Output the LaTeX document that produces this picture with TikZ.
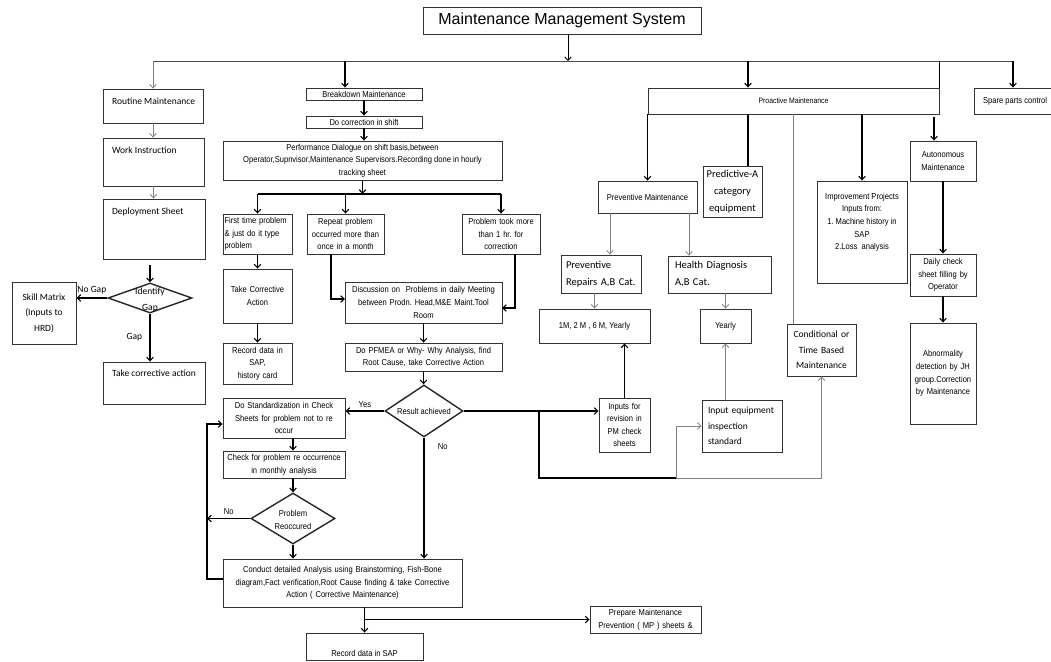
\documentclass[tikz,border=0pt]{standalone}
\usepackage{fontspec}
\usepackage{tikz}
\usetikzlibrary{shapes.geometric, arrows.meta}
\setmainfont{Liberation Sans}
\newfontfamily\narrowfam{Liberation Sans}[FakeStretch=0.88]
\newfontfamily\calibfam{Carlito}
\newcommand{\txtnarrow}{\narrowfam\fontsize{8.6}{12.6}\selectfont}
\newcommand{\txtsmall}{\narrowfam\fontsize{7.8}{11}\selectfont}
\newcommand{\txtcalib}{\calibfam\fontsize{9.5}{15.5}\selectfont}
\newcommand{\txtcalibbig}{\calibfam\fontsize{10.5}{17}\selectfont}
\frenchspacing

\begin{document}
\begin{tikzpicture}[x=1pt, y=-1pt,
    box/.style={draw=black!80, line width=0.9pt, inner sep=1.5pt, align=center, font=\txtnarrow},
    dia/.style={diamond, draw=black!85, line width=1.4pt, inner sep=0pt},
    tl/.style={anchor=west, xshift=6, yshift=-13, font=\txtcalib},
    ar/.style={-{Straight Barb[length=3.5pt,width=6.5pt]}, line width=1.1pt},
    gar/.style={ar, draw=black!50, line width=0.8pt},
    ln/.style={line width=1.1pt},
    gln/.style={draw=black!50, line width=0.8pt}]
\useasboundingbox (0,0) rectangle (1051,661);
\clip (0,0) rectangle (1051,661);

\node[box, minimum width=278, minimum height=27, font=\fontsize{16}{18}\selectfont] (title) at (562,20.5) {Maintenance Management System};

\node[box, minimum width=100, minimum height=34, label={[tl]north west:Routine Maintenance}] (routine) at (153,106) {};
\node[box, minimum width=101, minimum height=48, label={[tl]north west:Work Instruction}] (work) at (153.5,162) {};
\node[box, minimum width=102, minimum height=60, label={[tl]north west:Deployment Sheet}] (deploy) at (154,229) {};
\node[dia, minimum width=84, minimum height=30, label={[font=\txtcalib, align=center, yshift=-2]center:Identify\\Gap}] (gapd) at (150,298) {};
\node[box, font=\txtcalib, minimum width=64, minimum height=62] (skill) at (44,313) {Skill Matrix\\(Inputs to\\HRD)};
\node[box, minimum width=102, minimum height=42, label={[font=\txtcalib, anchor=center, yshift=-12]north:Take corrective action}] (takeca) at (154,383) {};

\node[box, minimum width=116, minimum height=12, inner sep=0.5pt] (bd) at (364,94) {Breakdown Maintenance};
\node[box, minimum width=116, minimum height=12, inner sep=0.5pt] (corr) at (364,122) {Do correction in shift};
\node[box, minimum width=279, minimum height=39] (perf) at (362.5,160.5) {Performance Dialogue on shift basis,between\\Operator,Supnvisor,Maintenance Supervisors.Recording done in hourly\\tracking sheet};
\node[box, align=left, text width=66, minimum height=40] (first) at (257.5,234) {First time problem\\\& just do it type\\problem};
\node[box, text width=74, minimum height=40] (repeat) at (345.5,234) {Repeat problem\\occurred more than\\once in a month};
\node[box, text width=75, minimum height=40] (took) at (501,234) {Problem took more\\than 1 hr. for\\correction};
\node[box, text width=66, minimum height=54] (tca) at (257.5,296) {Take Corrective\\Action};
\node[box, text width=66, minimum height=41] (rec1) at (257.5,363.5) {Record data in\\SAP,\\history card};
\node[box, text width=154, minimum height=41] (disc) at (423.5,302.5) {Discussion on\ \ Problems in daily Meeting\\between Prodn. Head,M\&E Maint.Tool\\Room};
\node[box, text width=154, minimum height=28] (pfmea) at (423.5,357) {Do PFMEA or Why- Why Analysis, find\\Root Cause, take Corrective Action};
\node[dia, minimum width=78, minimum height=52, label={[font=\txtnarrow]center:Result achieved}] (res) at (424,411) {};
\node[box, text width=119, minimum height=40] (std) at (284,418) {Do Standardization in Check\\Sheets for problem not to re\\occur};
\node[box, text width=119, minimum height=27] (chk) at (284,464.5) {Check for problem re occurrence\\in monthly analysis};
\node[dia, minimum width=84, minimum height=51, label={[font=\txtnarrow, align=center, yshift=-1.5]center:Problem\\Reoccured}] (reo) at (293,518.5) {};
\node[box, text width=236, minimum height=48] (cond) at (342.5,583) {Conduct detailed Analysis using Brainstorming, Fish-Bone\\diagram,Fact verification,Root Cause finding \& take Corrective\\Action ( Corrective Maintenance)};
\node[box, minimum width=117, minimum height=27, label={[font=\txtnarrow, yshift=-7]center:Record data in SAP}] (rec2) at (364.5,646.5) {};
\node[box, text width=108, minimum height=27] (prep) at (645.5,619.5) {Prepare Maintenance\\Prevention ( MP ) sheets \&};

\node[box, font=\txtsmall, minimum width=291, minimum height=26] (pro) at (793.5,101) {Proactive Maintenance};
\node[box, minimum width=91, minimum height=26, label={[anchor=west, xshift=6, font=\txtnarrow]west:Spare parts control}] (spare) at (1019.5,101) {};
\node[box, minimum width=99, minimum height=32] (prevm) at (647.5,197) {Preventive Maintenance};
\node[box, font=\txtcalibbig, inner sep=0pt, minimum width=59, minimum height=51] (pred) at (732.5,191.5) {Predictive-A\\category\\equipment};
\node[box, minimum width=90, minimum height=102, label={[font=\txtnarrow, align=center, anchor=north, yshift=-9]north:Improvement Projects\\Inputs from:\\1. Machine history in\\SAP\\2.Loss\ \ analysis}] (impr) at (862,232) {};
\node[box, text width=63, minimum height=40] (auto) at (943,161) {Autonomous\\Maintenance};
\node[box, text width=63, minimum height=42] (daily) at (943,275) {Daily check\\sheet filling by\\Operator};
\node[box, text width=63, minimum height=101] (abn) at (943,373.5) {Abnormality\\detection by JH\\group.Correction\\by Maintenance};
\node[box, font=\txtcalib, text width=66, minimum height=52] (condm) at (821.5,350) {Conditional or\\Time Based\\Maintenance};
\node[box, font=\txtcalibbig, align=left, text width=70, inner xsep=5, minimum height=38] (prepr) at (601,274) {Preventive\\Repairs A,B Cat.};
\node[box, font=\txtcalibbig, align=left, text width=89, inner xsep=7, minimum height=37] (hd) at (719.5,274.5) {Health Diagnosis\\A,B Cat.};
\node[box, minimum width=111, minimum height=34] (m126) at (594.5,326) {1M, 2 M , 6 M, Yearly};
\node[box, minimum width=51, minimum height=34] (yearly) at (725.5,326) {Yearly};
\node[box, text width=48, minimum height=54] (inrev) at (624.5,425) {Inputs for\\revision in\\PM check\\sheets};
\node[box, font=\txtcalib, align=left, text width=68, inner xsep=6, minimum height=52] (ineq) at (742,426) {Input equipment\\inspection\\standard};

\coordinate (busL) at (153,61);
\coordinate (busR) at (1013,61);
\coordinate (sysdown) at (568,61);
\coordinate (bdx) at (345,61);
\coordinate (prox) at (748,61);
\coordinate (autx) at (934,117);
\coordinate (pmL) at (610,0);
\coordinate (pmR) at (689,0);
\coordinate (split) at (362.5,194);
\coordinate (rptx) at (331,0);
\coordinate (rptin) at (345,299);
\coordinate (tookx) at (515,0);
\coordinate (tookin) at (502,308);
\coordinate (jn) at (539,411);
\coordinate (low) at (676,478);
\coordinate (lpbot) at (223,579);
\coordinate (lp) at (207,424);

\draw[ar, line width=0.9pt] (title.south -| sysdown) -- (sysdown);
\draw[draw=black!70, line width=0.9pt] (busL) -- (busR);
\draw[gar] (busL) -- (routine.north);
\draw[ar] (bdx) -- (bdx |- bd.north);
\draw[ar] (prox) -- (prox |- pro.north);
\draw[ln] (pro.north east |- busL) -- (pro.north east);
\draw[ar] (busR) -- (busR |- spare.north);

\draw[gar] (routine.south) -- (routine.south |- work.north);
\draw[gar] (work.south) -- (work.south |- deploy.north);
\draw[ar, shorten <=6pt] (gapd.north |- deploy.south) -- (gapd.north);
\draw[ar] (gapd.west) -- (gapd.west -| skill.east) node[midway, above, font=\txtcalib] {No Gap};
\draw[ar] (gapd.south) -- (gapd.south |- takeca.north) node[midway, left, xshift=-4, font=\txtcalib] {Gap};

\draw[ar] (bd.south) -- (corr.north);
\draw[ar] (corr.south) -- (corr.south |- perf.north);
\draw[ar] (perf.south) -- (split);
\draw[ln] (first.north |- split) -- (took.north |- split);
\foreach \n in {first, repeat, took}
  \draw[ar] (\n.north |- split) -- (\n.north);
\draw[ar] (first.south) -- (tca.north);
\draw[ar] (tca.south) -- (rec1.north);
\draw[ar] (rptx |- repeat.south) |- (rptin);
\draw[ar] (tookx |- took.south) |- (tookin);
\draw[ar] (disc.south) -- (pfmea.north);
\draw[ar] (pfmea.south) -- (pfmea.south |- res.north);
\draw[ar] (res.west) -- (res.west -| std.east) node[midway, above, font=\txtnarrow] {Yes};
\draw[ar] (res.south) -- (res.south |- cond.north) node[pos=0.075, right, xshift=10, font=\txtnarrow] {No};
\draw[ar] (reo.north |- std.south) -- (reo.north |- chk.north);
\draw[ar] (reo.north |- chk.south) -- (reo.north);
\draw[ar] (reo.west) -- (reo.west -| lp) node[midway, above, font=\txtnarrow] {No};
\draw[ar] (reo.south) -- (reo.south |- cond.north);
\draw[ar] (lpbot) -| (lp) -- (lp -| std.west);
\draw[ar] (rec2.north |- cond.south) -- (rec2.north);
\draw[ar] (rec2.north |- prep.west) -- (prep.west);

\draw[ar] (res.east) -- (res.east -| inrev.west);
\draw[ln] (jn) |- (low);
\draw[gar] (low) |- (ineq.west);
\draw[gar] (low) -| (condm.south);

\draw[ar] (prevm.north |- pro.south) -- (prevm.north);
\draw[ln] (prox |- pro.south) -- (prox |- pred.north);
\draw[gln] (pro.south) -- (pro.south |- condm.north);
\draw[ar] (impr.north |- pro.south) -- (impr.north);
\draw[ar] (autx) -- (autx |- auto.north);
\draw[ar] (auto.south) -- (daily.north);
\draw[ar] (daily.south) -- (abn.north);
\draw[gar] (pmL |- prevm.south) -- (pmL |- prepr.north);
\draw[gar] (pmR |- prevm.south) -- (pmR |- hd.north);
\draw[gar] (m126.north |- prepr.south) -- (m126.north);
\draw[gar] (yearly.north |- hd.south) -- (yearly.north);
\draw[ar] (inrev.north) -- (inrev.north |- m126.south);
\draw[gar] (yearly.south |- ineq.north) -- (yearly.south);
\end{tikzpicture}
\end{document}
